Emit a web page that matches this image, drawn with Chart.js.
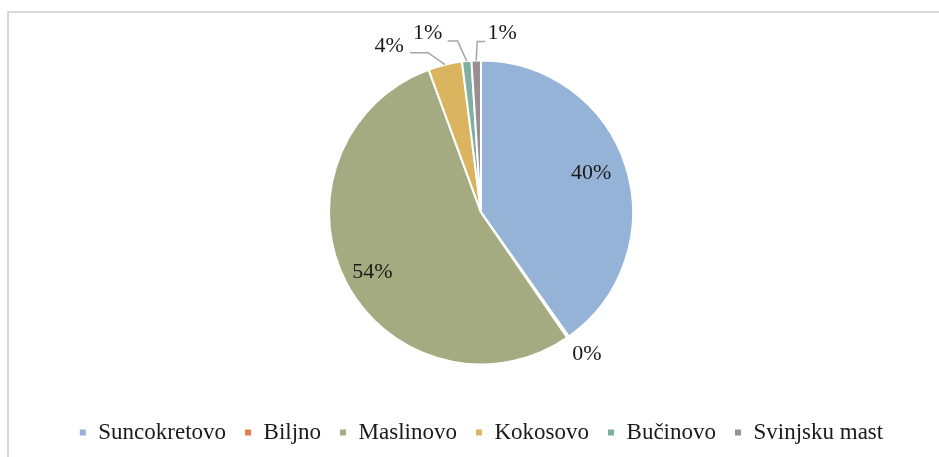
<!DOCTYPE html>
<html>
<head>
<meta charset="utf-8">
<script src="https://cdn.jsdelivr.net/npm/chart.js@4/dist/chart.umd.min.js"></script>
<style>
  html, body { margin: 0; padding: 0; background: #fff; overflow: hidden; width: 939px; height: 457px; }
  #frame { position: absolute; left: 7px; top: 11px; width: 960px; height: 500px; border: 2px solid #d9d9d9; box-sizing: border-box; }
  #wrap { position: absolute; left: 8px; top: 12px; width: 946px; height: 445px; }
</style>
</head>
<body>
<div id="frame"></div>
<div id="wrap"><canvas id="c" width="946" height="445"></canvas></div>
<script>
const categories = ['Suncokretovo', 'Biljno', 'Maslinovo', 'Kokosovo', 'Bučinovo', 'Svinjsku mast'];
const shares = [40.2, 0.2, 54.0, 3.6, 1.0, 1.0];
const colors = ['#95b3d7', '#e0804c', '#a5ab81', '#dbb45f', '#7eb0a2', '#9a8f90'];

// label layout: inside (fraction of radius, small nudge) or outside (offset from slice edge)
const labelLayout = [
  { inside: 0.76, nx: 0, ny: -4 },
  { dx: 19, dy: 17, line: false },
  { inside: 0.79, nx: -2, ny: 5 },
  { dx: -56, dy: -18, line: true, elbow: [-17, -12], end: [-35, -12] },
  { dx: -39, dy: -28, line: true, elbow: [-9, -20], end: [-19, -20] },
  { dx: 26, dy: -27, line: true, elbow: [1, -19], end: [9, -19] }
];

const labelPlugin = {
  id: 'pieLabels',
  afterDatasetsDraw(chart) {
    const ctx = chart.ctx;
    const meta = chart.getDatasetMeta(0);
    const data = chart.data.datasets[0].data;
    const total = data.reduce((a, b) => a + b, 0);
    ctx.save();
    ctx.font = '22px "Liberation Serif", "Times New Roman", serif';
    ctx.fillStyle = '#1a1a1a';
    ctx.textAlign = 'center';
    ctx.textBaseline = 'middle';
    meta.data.forEach((arc, i) => {
      const p = arc.getProps(['x', 'y', 'startAngle', 'endAngle', 'outerRadius'], true);
      const mid = (p.startAngle + p.endAngle) / 2;
      const txt = Math.round(data[i] / total * 100) + '%';
      const L = labelLayout[i];
      if (L.inside) {
        const r = p.outerRadius * L.inside;
        ctx.fillText(txt, p.x + Math.cos(mid) * r + L.nx, p.y + Math.sin(mid) * r + L.ny);
      } else {
        const ax = p.x + Math.cos(mid) * p.outerRadius;
        const ay = p.y + Math.sin(mid) * p.outerRadius;
        if (L.line) {
          ctx.strokeStyle = '#a6a6a6';
          ctx.lineWidth = 1.5;
          ctx.beginPath();
          ctx.moveTo(ax, ay);
          ctx.lineTo(ax + L.elbow[0], ay + L.elbow[1]);
          ctx.lineTo(ax + L.end[0], ay + L.end[1]);
          ctx.stroke();
        }
        ctx.fillText(txt, ax + L.dx, ay + L.dy);
      }
    });
    ctx.restore();
  }
};

new Chart(document.getElementById('c'), {
  type: 'pie',
  data: {
    labels: categories,
    datasets: [{
      data: shares,
      backgroundColor: colors,
      borderColor: '#ffffff',
      borderWidth: 2,
      hoverOffset: 0,
      offset: 0,
      radius: 152
    }]
  },
  options: {
    responsive: false,
    animation: false,
    events: [],
    layout: { padding: { top: 48, bottom: 3, left: 0, right: 0 } },
    plugins: {
      tooltip: { enabled: false },
      legend: {
        position: 'bottom',
        title: { display: true, text: ' ', font: { size: 1 }, padding: { top: 37, bottom: 0 } },
        labels: {
          boxWidth: 8,
          boxHeight: 8,
          padding: 18,
          color: '#1a1a1a',
          font: { family: '"Liberation Serif", "Times New Roman", serif', size: 23 }
        }
      }
    }
  },
  plugins: [labelPlugin]
});
</script>
</body>
</html>
